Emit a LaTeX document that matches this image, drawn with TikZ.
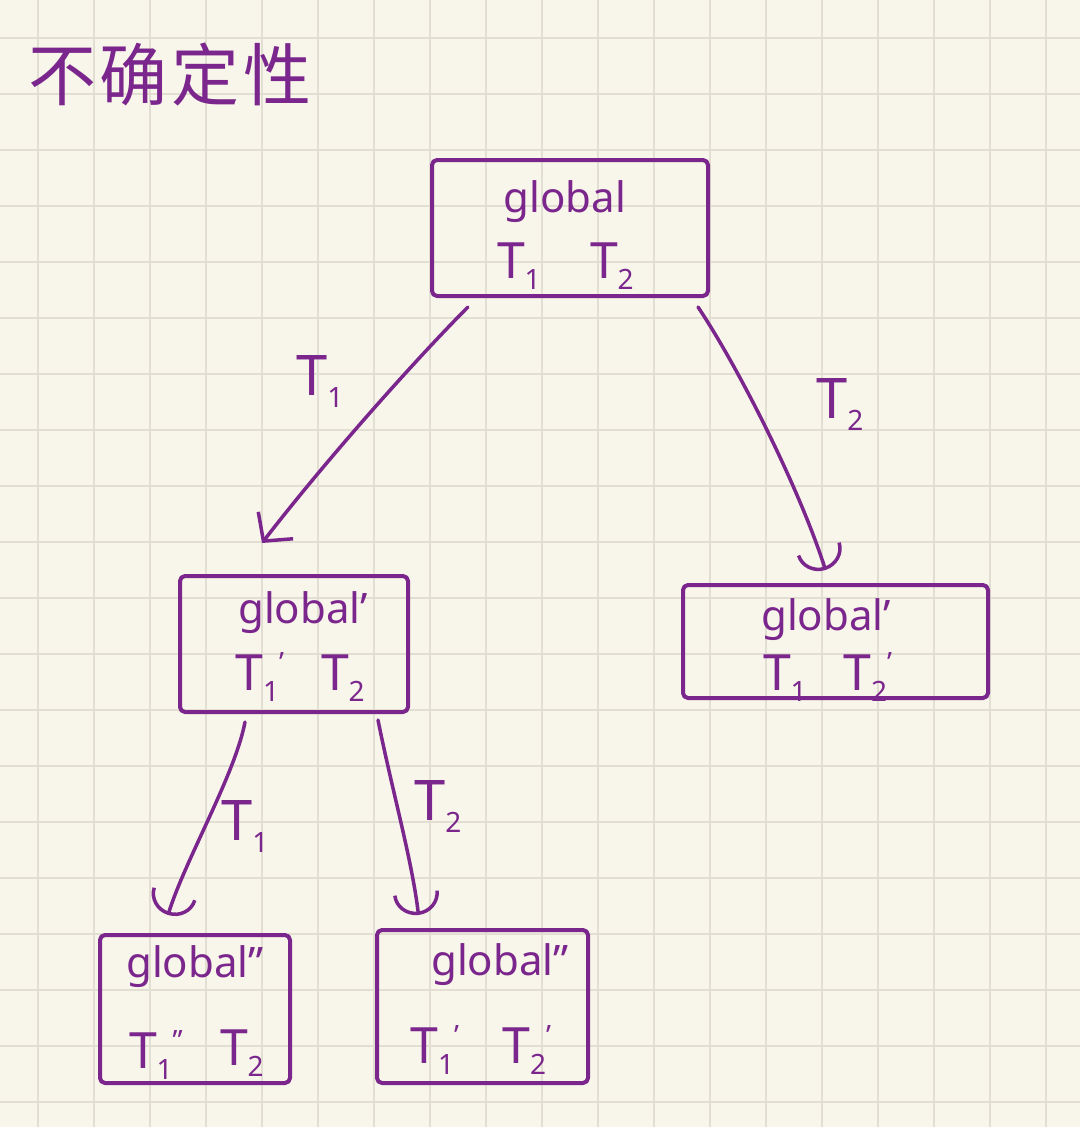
\documentclass[tikz,border=0pt]{standalone}
\usepackage{fontspec}
\setmainfont{Noto Sans}
\newfontfamily\cjk{Noto Sans CJK SC}
\usetikzlibrary{arrows.meta}
\definecolor{ink}{RGB}{122,38,140}
\definecolor{paper}{RGB}{248,245,234}
\definecolor{gridc}{RGB}{226,222,210}
\newcommand\Tsb[2]{T\kern-0.5pt\raisebox{-0.22em}{\fontsize{28}{28}\selectfont #1}\raisebox{0.35em}{\fontsize{28}{28}\selectfont #2}}
\tikzset{
  gridl/.style={draw=gridc, line width=2.5pt},
  boxn/.style={draw=ink, line width=4pt, rounded corners=5pt, inner sep=0pt, line join=round},
  txt/.style={text=ink, inner sep=0pt, anchor=base, font=\fontsize{42}{42}\selectfont},
  tt/.style={text=ink, inner sep=0pt, anchor=base, font=\fontsize{50}{50}\selectfont},
  lab/.style={text=ink, inner sep=0pt, anchor=base, font=\fontsize{56}{56}\selectfont},
  arr/.style={draw=ink, line width=3.5pt, line cap=round, line join=round},
  vtip/.style={-{Straight Barb[length=20pt,width=44pt]}},
  utip/.style={-{Arc Barb[length=22pt,width=46pt]}}
}
\begin{document}
\begin{tikzpicture}[x=1pt,y=-1pt]
\fill[paper] (0,0) rectangle (1080,1127);
\useasboundingbox (0,0) rectangle (1080,1127);
\foreach \g in {38,94,150,206,262,318,374,430,486,542,598,654,710,766,822,878,934,990,1046}
  \draw[gridl] (\g,0) -- (\g,1127);
\foreach \g in {38,94,150,206,262,318,374,430,486,542,598,654,710,766,822,878,934,990,1046,1102}
  \draw[gridl] (0,\g) -- (1080,\g);

% title
\node[text=ink, inner sep=0pt, font=\cjk\fontsize{68}{68}\selectfont] (title) at (170,75) {不\kern4pt确\kern4pt定\kern4pt性};

% boxes
\node[boxn, minimum width=276pt, minimum height=136pt] (A) at (570,228) {};
\node[boxn, minimum width=228pt, minimum height=136pt] (B) at (294,644) {};
\node[boxn, minimum width=305pt, minimum height=113pt] (C) at (835.5,641.5) {};
\node[boxn, minimum width=190pt, minimum height=148pt] (D) at (195,1009) {};
\node[boxn, minimum width=211pt, minimum height=153pt] (E) at (482.5,1006.5) {};

% box texts
\node[txt] (Ag) at (565,212) {global};
\node[tt] (A1) at (519,278) {\Tsb{1}{}};
\node[tt] (A2) at (612,278) {\Tsb{2}{}};

\node[txt] (Bg) at (303,623) {global'};
\node[tt] (B1) at (260,690) {\Tsb{1}{'}};
\node[tt] (B2) at (343,690) {\Tsb{2}{}};

\node[txt] (Cg) at (826,630) {global'};
\node[tt] (C1) at (785,690) {\Tsb{1}{}};
\node[tt] (C2) at (868,690) {\Tsb{2}{'}};

\node[txt] (Dg) at (195,977) {global''};
\node[tt] (D1) at (156,1068) {\Tsb{1}{''}};
\node[tt] (D2) at (242,1065) {\Tsb{2}{}};

\node[txt] (Eg) at (500,975) {global''};
\node[tt] (E1) at (435,1063) {\Tsb{1}{'}};
\node[tt] (E2) at (527,1063) {\Tsb{2}{'}};

% connectors
\draw[arr, vtip] ([xshift=-102pt,yshift=-9pt]A.south) .. controls (420,355) and (330,455) .. ([xshift=-32pt,yshift=31pt]B.north);
\draw[arr, utip] ([xshift=128pt,yshift=-9pt]A.south) .. controls (740,370) and (800,490) .. ([xshift=-10pt,yshift=13pt]C.north);
\draw[arr, utip] ([xshift=-49pt,yshift=-8pt]B.south) .. controls (235,775) and (185,860) .. ([xshift=-27pt,yshift=18pt]D.north);
\draw[arr, utip] ([xshift=84pt,yshift=-6pt]B.south) .. controls (392,790) and (412,860) .. ([xshift=-64pt,yshift=13pt]E.north);

% connector labels
\node[lab] (L1) at (320,395) {\Tsb{1}{}};
\node[lab] (L2) at (840,418) {\Tsb{2}{}};
\node[lab] (L3) at (245,840) {\Tsb{1}{}};
\node[lab] (L4) at (438,820) {\Tsb{2}{}};
\end{tikzpicture}
\end{document}
